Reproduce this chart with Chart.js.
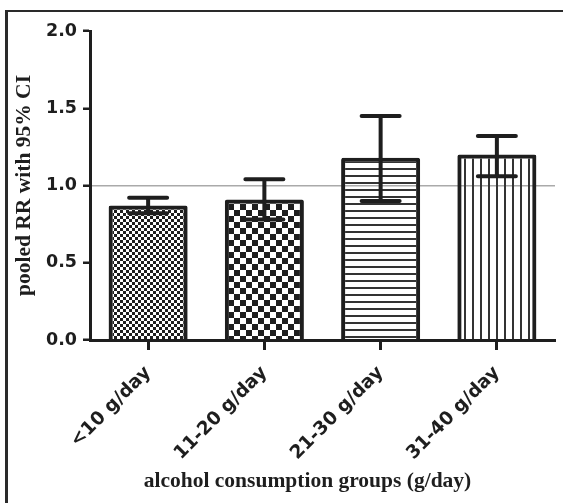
<!DOCTYPE html>
<html>
<head>
<meta charset="utf-8">
<script src="https://cdn.jsdelivr.net/npm/chart.js@4"></script>
<style>
  html, body { margin: 0; padding: 0; background: #fff; overflow: hidden; }
  #wrap { position: relative; width: 563px; height: 503px; }
  #frame {
    position: absolute; left: 5px; top: 10px; width: 620px; height: 560px;
    border-top: 2px solid #2a2a2a; border-left: 3px solid #2a2a2a;
  }
  #chart { position: absolute; left: 0; top: 0; }
</style>
</head>
<body>
<div id="wrap">
  <div id="frame"></div>
  <canvas id="chart" width="563" height="503"></canvas>
</div>
<script>
const groups = ["<10 g/day", "11-20 g/day", "21-30 g/day", "31-40 g/day"];
const pooledRR = [0.87, 0.91, 1.18, 1.2];
const ciLower = [0.82, 0.78, 0.9, 1.06];
const ciUpper = [0.92, 1.04, 1.45, 1.32];
const yTitle = "pooled RR with 95% CI";
const xTitle = "alcohol consumption groups (g/day)";

const ink = "#1e1e1e";

// small tile canvases used as bar fills
const makePattern = (w, h, draw) => {
  const c = document.createElement("canvas");
  c.width = w;
  c.height = h;
  const g = c.getContext("2d");
  g.fillStyle = ink;
  draw(g);
  return g.createPattern(c, "repeat");
};

const fineChecker = makePattern(6, 6, (g) => {
  g.fillRect(0, 0, 3, 3);
  g.fillRect(3, 3, 3, 3);
});
const coarseChecker = makePattern(12, 12, (g) => {
  g.fillRect(0, 0, 6, 6);
  g.fillRect(6, 6, 6, 6);
});
const hLines = makePattern(7, 7, (g) => {
  g.fillStyle = "#333";
  g.fillRect(0, 0, 7, 2);
});
const vLines = makePattern(8, 8, (g) => {
  g.fillStyle = "#333";
  g.fillRect(0, 0, 2, 8);
});

const errorBars = {
  id: "errorBars",
  afterDatasetsDraw(chart) {
    const { ctx, scales } = chart;
    const meta = chart.getDatasetMeta(0);
    ctx.save();
    ctx.strokeStyle = ink;
    ctx.lineWidth = 4;
    ctx.lineCap = "round";
    meta.data.forEach((bar, i) => {
      const top = scales.y.getPixelForValue(ciUpper[i]);
      const bottom = scales.y.getPixelForValue(ciLower[i]);
      ctx.beginPath();
      ctx.moveTo(bar.x, top);
      ctx.lineTo(bar.x, bottom);
      ctx.moveTo(bar.x - 19, top);
      ctx.lineTo(bar.x + 19, top);
      ctx.moveTo(bar.x - 19, bottom);
      ctx.lineTo(bar.x + 19, bottom);
      ctx.stroke();
    });
    ctx.restore();
  },
};

// x title sits a bit left of the plot centre in the original
const bottomTitle = {
  id: "bottomTitle",
  afterDraw(chart) {
    const { ctx, chartArea } = chart;
    ctx.save();
    ctx.font = "bold 21.5px 'Liberation Serif'";
    ctx.fillStyle = ink;
    ctx.textAlign = "center";
    ctx.textBaseline = "alphabetic";
    ctx.fillText(xTitle, (chartArea.left + chartArea.right) / 2 - 15, 487);
    ctx.restore();
  },
};

new Chart(document.getElementById("chart"), {
  type: "bar",
  data: {
    labels: groups,
    datasets: [
      {
        data: pooledRR,
        backgroundColor: [fineChecker, coarseChecker, hLines, vLines],
        borderColor: ink,
        borderWidth: 4,
        borderRadius: 2,
        categoryPercentage: 1,
        barPercentage: 0.68,
      },
    ],
  },
  options: {
    responsive: false,
    animation: false,
    layout: { padding: { top: 31, right: 8, left: 0, bottom: 0 } },
    plugins: {
      legend: { display: false },
      tooltip: { enabled: false },
    },
    scales: {
      x: {
        afterFit: (scale) => {
          scale.height = 163;
        },
        grid: {
          display: true,
          drawOnChartArea: false,
          offset: false,
          tickLength: 10,
          tickWidth: 3,
          tickColor: ink,
        },
        border: { display: true, width: 3, color: ink },
        ticks: {
          color: ink,
          maxRotation: 45,
          minRotation: 45,
          padding: 12,
          font: { family: "'DejaVu Sans'", weight: "bold", size: 18.5 },
        },
      },
      y: {
        min: 0,
        max: 2,
        afterFit: (scale) => {
          scale.width = 90;
        },
        grid: {
          color: (c) => (c.tick && c.tick.value === 1 ? "#aaaaaa" : "rgba(0,0,0,0)"),
          lineWidth: 1.5,
          tickLength: 7,
          tickWidth: 2.5,
          tickColor: ink,
        },
        border: { display: true, width: 3, color: ink },
        ticks: {
          stepSize: 0.5,
          color: ink,
          padding: 6,
          font: { family: "'DejaVu Sans'", weight: "bold", size: 17.5 },
          callback: (v) => v.toFixed(1),
        },
        title: {
          display: true,
          text: yTitle,
          color: ink,
          padding: { top: 12, bottom: 0 },
          font: { family: "'Liberation Serif'", weight: "bold", size: 21.5 },
        },
      },
    },
  },
  plugins: [errorBars, bottomTitle],
});
</script>
</body>
</html>
